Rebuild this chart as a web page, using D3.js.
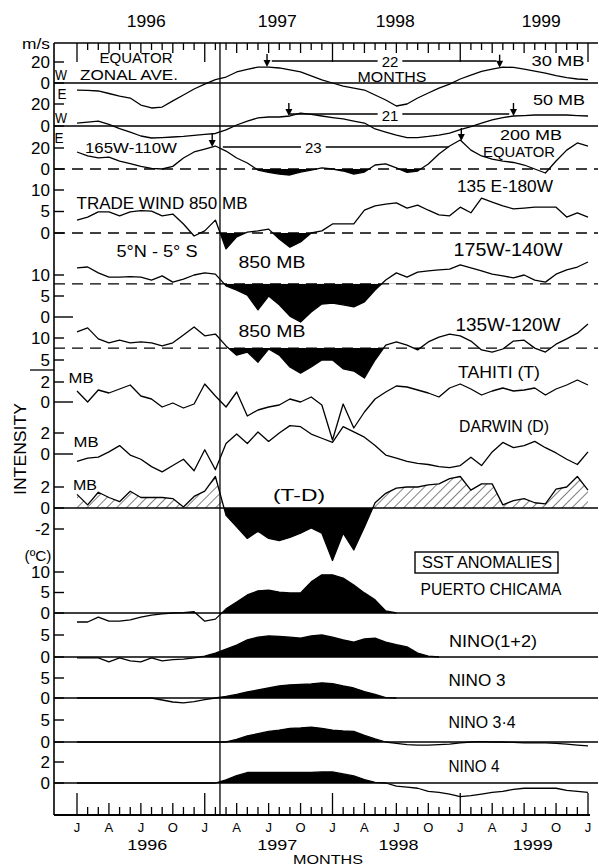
<!DOCTYPE html>
<html>
<head>
<meta charset="utf-8">
<script src="https://cdn.jsdelivr.net/npm/d3@7"></script>
<style>
  body { margin: 0; background: #fff; }
  text { font-family: "Liberation Sans", Arial, sans-serif; fill: #000; }
</style>
</head>
<body>
<script>
const width = 599
const height = 868

// Monthly values, index 0 = Jan 1996 ... index 48 = Jan 2000
const zonal30 = [-6.7, -7.1, -7.6, -10, -12.4, -14.3, -21, -23.8, -22.9, -17, -11.4, -5.7, -1, 3.3, 5.7, 10.5, 12.9, 15.2, 15.2, 14.3, 12.4, 10.5, 6.7, 2.9, 0, -2.9, -4.8, -6.7, -11.4, -16.2, -21.9, -20, -14.3, -9.5, -4.8, -1, 3.8, 7.6, 11, 13.3, 15.2, 14.8, 13.3, 11.4, 9.5, 7.1, 5.2, 3.8, 3.3]
const zonal50 = [2.7, 3.6, 4.5, 1.4, -2.3, -5.5, -9.1, -10.9, -10.5, -10, -9.5, -8.6, -7.7, -6.8, -3.6, 0.9, 4.5, 7.3, 8.2, 8.2, 9.1, 11.8, 10.5, 9.1, 7.7, 6.4, 4.5, 2.7, -2.7, -5.5, -8.2, -10.5, -10.5, -9.5, -8.2, -6.4, -3.2, -0.5, 2.7, 5.5, 7.7, 9.1, 9.5, 10, 10, 10, 10, 9.5, 9.1]
const zonal200 = [16.2, 12.4, 10.5, 11.4, 7.6, 5.2, 2.4, 0.5, 0, 2.5, 10.5, 16.2, 19, 21.9, 17.1, 10.5, 5.7, -1, -3.3, -4.8, -5.7, -2.9, -1, 1, 0, -1.9, -4.8, -2.9, 3.8, 4.8, 1, -3.3, -1.9, 4.8, 14.3, 21.9, 27.6, 18, 12.4, 9.5, 7.6, 6.2, 3.8, 0, -3.8, 7.6, 18, 24.8, 21.9]
const trade135E = [3.0, 3.7, 4.9, 4.9, 4.0, 4.9, 5.2, 5.1, 4.0, 4.4, 2.1, -0.7, 0.5, 3.0, -3.7, -0.9, 0.2, 0.5, 0.9, -1.4, -3.3, -2.1, 0, 0.5, 2.1, 2.1, 2.1, 5.3, 6.3, 6.7, 7.0, 5.8, 6.5, 5.3, 4.2, 4.0, 6.0, 4.7, 8.1, 7.2, 6.3, 5.6, 5.8, 6.0, 6.0, 6.0, 3.7, 4.7, 3.7]
const trade175W = [11.7, 11.9, 10.5, 9.5, 9.5, 9.6, 9.5, 8.8, 9.8, 8.3, 9.0, 10.0, 10.5, 10.2, 7.4, 6.4, 5.2, 1.7, 5.0, 2.9, 0.2, -1.2, 1.2, 3.1, 3.3, 2.9, 2.4, 3.6, 6.4, 8.8, 10.5, 9.5, 10.7, 11, 11.2, 11.4, 12.4, 11.7, 11, 10.2, 9.8, 9.3, 10, 8.8, 8.3, 10.2, 11.2, 11.9, 13.1]
const trade135W = [11.4, 12.3, 9.8, 8.9, 9.5, 8.9, 9.1, 8.9, 8.2, 8.9, 10.7, 12.5, 10.5, 10.9, 8.2, 6.1, 6.8, 4.5, 7.5, 6.1, 3.4, 2.0, 3.4, 5.0, 5.0, 3.0, 2.5, 0.9, 5.0, 8.4, 9.1, 8.4, 7.3, 9.1, 10.2, 10.9, 10.5, 9.3, 7.3, 6.8, 7.5, 9.3, 9.5, 7.7, 6.8, 8.6, 9.8, 11.1, 13.2]
const tradeNormal175W = 7.9
const tradeNormal135W = 7.7
const tahiti = [1.1, 0, 1.2, 0.9, 1.3, 1.7, 0.6, 0.3, -0.5, -0.1, -0.6, -0.2, 1.8, 0.6, -0.5, 1.0, -1.4, -0.8, -0.5, -0.3, 0.3, 0, 0.5, -0.3, -3.8, -0.2, -2.6, -1.0, 0.3, 1.0, 1.6, 1.5, 1.2, 0.9, 0.5, 1.4, 1.8, 1.3, 0.7, 1.1, 1.4, 1.1, 1.2, 1.4, 0.7, 1.3, 1.7, 2.2, 1.7]
const darwin = [-0.7, -0.4, -0.3, 0.2, 0.8, -0.1, -0.5, -1.2, -1.7, -1.1, -0.5, -1.6, 0.4, -1.5, 1.0, 1.9, 1.0, 2.1, 1.2, 2.0, 2.7, 2.6, 1.9, 1.5, 1.1, 2.6, 2.1, 1.6, 0.8, -0.1, -0.4, -0.7, -0.9, -1.0, -1.2, -1.3, -1.1, -0.3, -1.1, 0.2, 1.1, 0.6, 0.8, 1.2, 0.6, 0.1, -0.5, -1.0, 0.2]
const tMinusD = [1.3, 0.3, 1.5, 1.0, 0.6, 1.6, 1.0, 1.0, 1.0, 0.9, 0.1, 1.1, 1.6, 3.0, -0.7, -1.8, -2.9, -2.2, -2.9, -3.1, -2.8, -2.4, -1.9, -2.4, -5.0, -2.4, -4.0, -1.8, 0.5, 1.4, 1.9, 2.0, 2.0, 2.2, 2.3, 2.8, 3.0, 1.7, 2.3, 2.3, 0.3, 0.7, 0.9, 0.5, 0.4, 1.8, 2.0, 3.0, 1.7]
const chicama = [-2.2, -2.2, -1.0, -2.0, -2.0, -1.7, -1.0, -0.5, -0.2, 0, 0.1, 0.3, -2.0, -1.5, 1.0, 2.7, 4.4, 5.4, 5.6, 5.1, 4.9, 4.9, 7.6, 9.3, 9.3, 8.5, 6.8, 4.9, 3.2, 0.5, 0]
const nino12 = [-0.2, -0.2, -0.2, -1.1, -0.2, -0.9, -1.1, -0.2, -0.9, -0.6, -0.5, -0.2, 0.2, 0.9, 1.8, 2.7, 3.9, 4.5, 4.8, 4.7, 4.5, 4.3, 4.8, 5.0, 4.5, 3.9, 3.4, 4.1, 4.3, 3.4, 2.8, 2.3, 0.9, 0.2, 0]
const nino3 = [0, 0, 0, 0, 0, 0, 0, 0, -0.5, -1.0, -1.2, -0.9, -0.4, 0, 0.4, 0.9, 1.5, 2.0, 2.5, 3.0, 3.3, 3.4, 3.5, 3.8, 3.6, 3.0, 2.5, 1.6, 0.9, 0.1, 0]
const nino34 = [0, 0, 0, 0, 0, 0, 0, 0, 0, 0, 0, 0, 0, 0, 0, 0.6, 1.4, 1.9, 2.4, 2.7, 3.1, 3.2, 3.4, 3.1, 2.7, 2.5, 2.4, 1.5, 0.7, 0, -0.3, -0.6, -0.7, -0.7, -0.6, -0.5, -0.2, 0, 0.1, 0, 0, -0.1, -0.2, -0.2, -0.2, -0.3, -0.5, -0.7, -0.9]
const nino4 = [0, 0, 0, 0, 0, 0, 0, 0, 0, 0, 0, 0, 0, 0, 0.3, 0.7, 1.0, 1.0, 1.0, 1.0, 1.0, 1.0, 1.0, 1.05, 1.05, 0.86, 0.67, 0.33, 0.05, 0, -0.3, -0.4, -0.5, -0.8, -0.9, -1.05, -1.3, -1.2, -1.05, -0.9, -0.8, -0.6, -0.5, -0.5, -0.5, -0.5, -0.7, -0.8, -0.9]

const monthLetters = ["J", "A", "J", "O"]
const yearLabels = ["1996", "1997", "1998", "1999"]
const topYearAt = [6.5, 18.8, 29.9, 43.6]
const bottomYearAt = [6.6, 18.8, 30.2, 42.8]
const onsetMonth = 13.43
// months over which the 1997-98 anomaly is shaded
const shadeSpan = [13, 34]

// QBO / 200 mb peak-to-peak intervals (months)
const intervals = [
  { panel: "z30", arrowsAt: [17.85, 39.7], from: 18.3, to: 39.4, level: 21, label: "22", labelAt: 29.4 },
  { panel: "z50", arrowsAt: [19.9, 41.0], from: 19.9, to: 40.6, level: 10.9, label: "21", labelAt: 29.4 },
  { panel: "z200", arrowsAt: [12.7, 36.1], from: 13.7, to: 34.9, level: 21, label: "23", labelAt: 22.2 }
]

const plotLeft = 54, plotRight = 598, plotTop = 43, plotBottom = 815

const svg = d3.select("body").append("svg")
    .attr("width", width)
    .attr("height", height)

const defs = svg.append("defs")
defs.append("pattern")
    .attr("id", "hatch")
    .attr("patternUnits", "userSpaceOnUse")
    .attr("width", 7).attr("height", 7)
    .attr("patternTransform", "rotate(45)")
  .append("line")
    .attr("x1", 0).attr("y1", 0).attr("x2", 0).attr("y2", 7)
    .attr("stroke", "#000").attr("stroke-width", 1)

const x = d3.scaleLinear().domain([0, 48]).range([77, 588])

// Panels stacked down the page, each with its own vertical scale
const panels = [
  { key: "z30", data: zonal30, dom: [0, 20], rng: [83, 62], base: 0, baseline: "solid", ticks: [20, 0] },
  { key: "z50", data: zonal50, dom: [0, 20], rng: [126, 104], base: 0, baseline: "solid", ticks: [20, 0] },
  { key: "z200", data: zonal200, dom: [0, 20], rng: [169, 148], base: 0, baseline: "dashed", below: "#000", only: shadeSpan, ticks: [20, 0] },
  { key: "t1", data: trade135E, dom: [0, 10], rng: [233, 190], base: 0, baseline: "dashed", below: "#000", only: shadeSpan, ticks: [10, 5, 0] },
  { key: "t2", data: trade175W, dom: [0, 10], rng: [317, 275], base: tradeNormal175W, baseline: "dashed", below: "#000", only: shadeSpan, ticks: [10, 5, 0], longTick: 0 },
  { key: "t3", data: trade135W, dom: [5, 10], rng: [360, 338], base: tradeNormal135W, baseline: "dashed", below: "#000", only: shadeSpan, ticks: [10, 5] },
  { key: "tah", data: tahiti, dom: [0, 2], rng: [402, 382], ticks: [2, 0], longTick: 0 },
  { key: "dar", data: darwin, dom: [0, 2], rng: [454, 433], ticks: [2, 0], longTick: 0 },
  { key: "td", data: tMinusD, dom: [0, 2], rng: [508, 487], base: 0, baseline: "solid", above: "url(#hatch)", below: "#000", ticks: [2, 0, -2] },
  { key: "pc", data: chicama, dom: [0, 10], rng: [613, 572], base: 0, baseline: "solid", above: "#000", ticks: [10, 5, 0] },
  { key: "n12", data: nino12, dom: [0, 5], rng: [657, 635], base: 0, baseline: "solid", above: "#000", ticks: [5, 0] },
  { key: "n3", data: nino3, dom: [0, 5], rng: [698, 678], base: 0, baseline: "solid", above: "#000", ticks: [5, 0] },
  { key: "n34", data: nino34, dom: [0, 5], rng: [742, 720], base: 0, baseline: "solid", above: "#000", ticks: [5, 0] },
  { key: "n4", data: nino4, dom: [0, 2], rng: [783, 762], base: 0, baseline: "solid", above: "#000", ticks: [2, 0] }
]

const gFill = svg.append("g")
const gLine = svg.append("g")
const gAxis = svg.append("g")

panels.forEach((p, i) => {
  const y = d3.scaleLinear().domain(p.dom).range(p.rng)
  p.y = y
  const area = d3.area()
      .defined((d, j) => !p.only || (j >= p.only[0] && j <= p.only[1]))
      .x((d, j) => x(j))
      .y0(y(p.base || 0))
      .y1(d => y(d))

  ;["below", "above"].forEach(side => {
    if (!p[side]) return
    const yb = y(p.base)
    const id = "clip" + i + side
    defs.append("clipPath").attr("id", id)
      .append("rect")
        .attr("x", plotLeft).attr("width", plotRight - plotLeft)
        .attr("y", side === "below" ? yb : yb - 300)
        .attr("height", 300)
    gFill.append("path")
        .datum(p.data)
        .attr("d", area)
        .attr("fill", p[side])
        .attr("clip-path", `url(#${id})`)
  })

  const line = d3.line()
      .x((d, j) => x(j))
      .y(d => y(d))
  gLine.append("path")
      .datum(p.data)
      .attr("d", line)
      .attr("fill", "none")
      .attr("stroke", "#000")
      .attr("stroke-width", 1.3)
      .attr("stroke-linejoin", "round")

  if (p.baseline) {
    gAxis.append("line")
        .attr("x1", plotLeft).attr("x2", plotRight)
        .attr("y1", y(p.base)).attr("y2", y(p.base))
        .attr("stroke", "#000")
        .attr("stroke-width", p.baseline === "solid" ? 1.6 : 1.3)
        .attr("stroke-dasharray", p.baseline === "dashed" ? "11,7" : null)
  }

  p.ticks.forEach(t => {
    gAxis.append("line")
        .attr("x1", plotLeft).attr("x2", p.longTick === t ? 73 : 64)
        .attr("y1", y(t)).attr("y2", y(t))
        .attr("stroke", "#000").attr("stroke-width", 1.4)
    gAxis.append("text")
        .attr("x", 50).attr("y", y(t))
        .attr("text-anchor", "end")
        .attr("dominant-baseline", "central")
        .attr("font-size", 17)
        .text(t)
  })
})

// frame
gAxis.append("line").attr("x1", plotLeft).attr("x2", plotLeft).attr("y1", plotTop).attr("y2", plotBottom)
    .attr("stroke", "#000").attr("stroke-width", 1.6)
gAxis.append("line").attr("x1", plotLeft).attr("x2", plotRight).attr("y1", plotTop).attr("y2", plotTop)
    .attr("stroke", "#000").attr("stroke-width", 1.6)
gAxis.append("line").attr("x1", plotLeft).attr("x2", 590).attr("y1", plotBottom).attr("y2", plotBottom)
    .attr("stroke", "#000").attr("stroke-width", 1.8)
gAxis.append("line").attr("x1", x(onsetMonth)).attr("x2", x(onsetMonth)).attr("y1", plotTop).attr("y2", plotBottom)
    .attr("stroke", "#000").attr("stroke-width", 1.3)
gAxis.append("line").attr("x1", 30).attr("x2", plotLeft).attr("y1", 370).attr("y2", 370)
    .attr("stroke", "#000").attr("stroke-width", 1.3)

// month ticks, top and bottom
const months = d3.range(0, 49)
gAxis.selectAll(".tt").data(months).enter().append("line")
    .attr("x1", d => x(d)).attr("x2", d => x(d))
    .attr("y1", plotTop).attr("y2", d => plotTop + (d % 12 === 0 ? 19 : d % 3 === 0 ? 10 : 7))
    .attr("stroke", "#000").attr("stroke-width", 1.3)
gAxis.selectAll(".bt").data(months).enter().append("line")
    .attr("x1", d => x(d)).attr("x2", d => x(d))
    .attr("y1", plotBottom).attr("y2", d => plotBottom - (d % 12 === 0 ? 22 : d % 3 === 0 ? 12 : 8))
    .attr("stroke", "#000").attr("stroke-width", 1.3)
gAxis.selectAll(".ml").data(months.filter(d => d % 3 === 0)).enter().append("text")
    .attr("x", d => x(d)).attr("y", 827)
    .attr("text-anchor", "middle").attr("dominant-baseline", "central")
    .attr("font-size", 13)
    .text(d => monthLetters[(d / 3) % 4])
yearLabels.forEach((yr, k) => {
  gAxis.append("text").attr("x", x(bottomYearAt[k])).attr("y", 844)
      .attr("text-anchor", "middle").attr("dominant-baseline", "central")
      .attr("font-size", 15).attr("textLength", 40).attr("lengthAdjust", "spacingAndGlyphs")
      .text(yr)
  gAxis.append("text").attr("x", x(topYearAt[k])).attr("y", 21)
      .attr("text-anchor", "middle").attr("dominant-baseline", "central")
      .attr("font-size", 17).attr("textLength", 39).attr("lengthAdjust", "spacingAndGlyphs")
      .text(yr)
})

// interval arrows
function valueAt(arr, m) {
  const i = Math.floor(m), f = m - i
  return arr[i] * (1 - f) + arr[Math.min(i + 1, arr.length - 1)] * f
}
intervals.forEach(iv => {
  const p = panels.find(d => d.key === iv.panel)
  const ly = p.y(iv.level)
  gAxis.append("line")
      .attr("x1", x(iv.from)).attr("x2", x(iv.to))
      .attr("y1", ly).attr("y2", ly)
      .attr("stroke", "#000").attr("stroke-width", 1.4)
  const t = gAxis.append("text")
      .attr("x", x(iv.labelAt)).attr("y", ly + 1)
      .attr("text-anchor", "middle").attr("dominant-baseline", "central")
      .attr("font-size", 15)
      .text(iv.label)
  const bb = t.node().getBBox()
  gAxis.insert("rect", () => t.node())
      .attr("x", bb.x - 4).attr("y", bb.y + 2).attr("width", bb.width + 8).attr("height", bb.height - 4)
      .attr("fill", "#fff")
  iv.arrowsAt.forEach(m => {
    const tip = p.y(valueAt(p.data, m))
    const ax = x(m)
    gAxis.append("line")
        .attr("x1", ax).attr("x2", ax).attr("y1", tip - 13).attr("y2", tip - 5)
        .attr("stroke", "#000").attr("stroke-width", 1.4)
    gAxis.append("path")
        .attr("d", `M${ax - 3.5},${tip - 7}L${ax + 3.5},${tip - 7}L${ax},${tip}Z`)
        .attr("fill", "#000")
  })
})

// annotations: text, centre x, centre y, font size, width
const labels = [
  ["m/s", 36, 43, 15, 28],
  ["EQUATOR", 136, 58, 14, 73],
  ["ZONAL  AVE.", 129, 75, 14, 98],
  ["W", 61, 74, 15, 12],
  ["E", 62, 93, 15, 9],
  ["W", 61, 117, 15, 12],
  ["E", 59, 137, 15, 9],
  ["30 MB", 558, 60, 15, 53],
  ["MONTHS", 392, 77, 14, 69],
  ["50 MB", 559, 99, 15, 52],
  ["165W-110W", 131, 147, 15, 92],
  ["200 MB", 531, 135, 14, 62],
  ["EQUATOR", 519, 152, 14, 72],
  ["135 E-180W", 505, 186, 17, 96],
  ["TRADE WIND 850 MB", 162, 203, 16, 171],
  ["5°N - 5° S", 157, 251, 16, 81],
  ["175W-140W", 508, 250, 18, 109],
  ["850 MB", 272, 262, 17, 67],
  ["135W-120W", 508, 325, 18, 105],
  ["850 MB", 272, 331, 17, 67],
  ["TAHITI (T)", 499, 372, 17, 82],
  ["MB", 81, 377, 15, 25],
  ["DARWIN (D)", 504, 426, 17, 90],
  ["MB", 86, 441, 15, 25],
  ["MB", 85, 484, 15, 24],
  ["(T-D)", 299, 495, 17, 52],
  ["(ºC)", 38, 555, 15, 27],
  ["SST ANOMALIES", 487, 562, 16, 130],
  ["PUERTO CHICAMA", 491, 589, 16, 141],
  ["NINO(1+2)", 493, 641, 17, 88],
  ["NINO 3", 477, 680, 17, 57],
  ["NINO 3·4", 482, 722, 17, 67],
  ["NINO 4", 474, 766, 17, 51],
  ["MONTHS", 328, 859, 13, 70]
]
svg.append("g").selectAll("text").data(labels).enter().append("text")
    .attr("x", d => d[1]).attr("y", d => d[2])
    .attr("text-anchor", "middle").attr("dominant-baseline", "central")
    .attr("font-size", d => d[3])
    .attr("textLength", d => d[4]).attr("lengthAdjust", "spacingAndGlyphs")
    .text(d => d[0])

svg.append("rect")
    .attr("x", 415).attr("y", 552).attr("width", 143).attr("height", 21)
    .attr("fill", "none").attr("stroke", "#000").attr("stroke-width", 1.4)

svg.append("text")
    .attr("transform", "translate(20,449) rotate(-90)")
    .attr("text-anchor", "middle").attr("dominant-baseline", "central")
    .attr("font-size", 16)
    .attr("textLength", 92).attr("lengthAdjust", "spacingAndGlyphs")
    .text("INTENSITY")
</script>
</body>
</html>
